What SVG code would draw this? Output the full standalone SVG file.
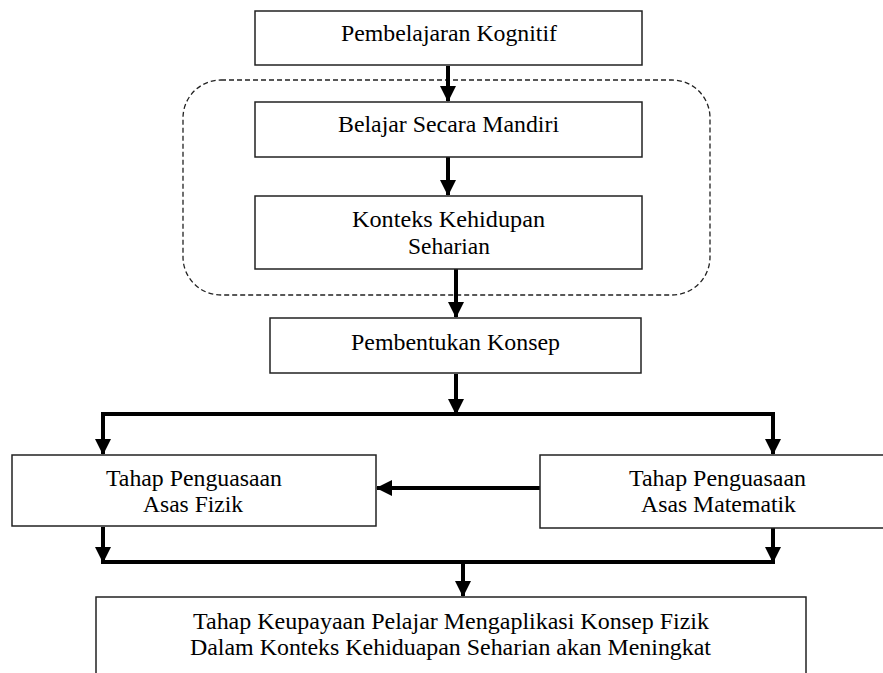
<svg xmlns="http://www.w3.org/2000/svg" width="883" height="673" viewBox="0 0 883 673">
<defs>
<style>
.box{fill:#fff;stroke:#222;stroke-width:1.5}
.t{font-family:'Liberation Serif','Times New Roman','DejaVu Serif',serif;font-size:24px;fill:#000;text-anchor:middle}
.c{fill:none;stroke:#000;stroke-width:4}
</style>
<marker id="ah" markerUnits="userSpaceOnUse" markerWidth="16" markerHeight="16" viewBox="0 0 16 16" refX="15" refY="8" orient="auto">
<path d="M0,0 L16,8 L0,16 Z" fill="#000"/>
</marker>
</defs>
<rect width="883" height="673" fill="#fff"/>
<g id="group-dashed">
<rect x="183" y="80" width="527" height="215" rx="38" ry="38" fill="none" stroke="#222" stroke-width="1.3" stroke-dasharray="5,3"/>
</g>
<g id="connectors">
<path class="c" d="M448,66 V101" marker-end="url(#ah)"/>
<path class="c" d="M448,157 V195" marker-end="url(#ah)"/>
<path class="c" d="M456,269 V317" marker-end="url(#ah)"/>
<path class="c" d="M456,374 V410"/>
<path class="c" d="M103,454 V414 H773 V454"/>
<path class="c" d="M103,414 V454" marker-end="url(#ah)"/>
<path class="c" d="M773,414 V454" marker-end="url(#ah)"/>
<path class="c" d="M456,395 V414" marker-end="url(#ah)"/>
<path class="c" d="M540,488 H377" marker-end="url(#ah)"/>
<path class="c" d="M103,527 V562 H773 V528"/>
<path class="c" d="M103,527 V562" marker-end="url(#ah)"/>
<path class="c" d="M773,528 V562" marker-end="url(#ah)"/>
<path class="c" d="M463,562 V596" marker-end="url(#ah)"/>
</g>
<g font-family="Liberation Serif, Times New Roman, DejaVu Serif, serif">
<g id="n1"><rect class="box" x="255" y="11" width="387" height="54"/><text class="t" x="449" y="41" textLength="216" lengthAdjust="spacingAndGlyphs">Pembelajaran  Kognitif</text></g>
<g id="n2"><rect class="box" x="255" y="102" width="387" height="55"/><text class="t" x="448.5" y="132" textLength="221" lengthAdjust="spacingAndGlyphs">Belajar  Secara Mandiri</text></g>
<g id="n3"><rect class="box" x="255" y="196" width="387" height="73"/><text class="t" x="448.5" y="227" textLength="193" lengthAdjust="spacingAndGlyphs">Konteks Kehidupan</text><text class="t" x="449" y="254" textLength="82" lengthAdjust="spacingAndGlyphs">Seharian</text></g>
<g id="n4"><rect class="box" x="270" y="318" width="371" height="55"/><text class="t" x="455.5" y="350" textLength="209" lengthAdjust="spacingAndGlyphs">Pembentukan Konsep</text></g>
<g id="n5"><rect class="box" x="12" y="455" width="364" height="71"/><text class="t" x="194" y="486" textLength="176" lengthAdjust="spacingAndGlyphs">Tahap Penguasaan</text><text class="t" x="193" y="512" textLength="100" lengthAdjust="spacingAndGlyphs">Asas Fizik</text></g>
<g id="n6"><rect class="box" x="540" y="455" width="350" height="73"/><text class="t" x="717.5" y="486" textLength="177" lengthAdjust="spacingAndGlyphs">Tahap Penguasaan</text><text class="t" x="718.5" y="512" textLength="155" lengthAdjust="spacingAndGlyphs">Asas Matematik</text></g>
<g id="n7"><rect class="box" x="96" y="597" width="710" height="90"/><text class="t" x="451" y="629" textLength="516" lengthAdjust="spacingAndGlyphs">Tahap Keupayaan Pelajar Mengaplikasi Konsep Fizik</text><text class="t" x="450.5" y="655" textLength="521" lengthAdjust="spacingAndGlyphs">Dalam Konteks Kehiduapan Seharian akan Meningkat</text></g>
</g>
</svg>
